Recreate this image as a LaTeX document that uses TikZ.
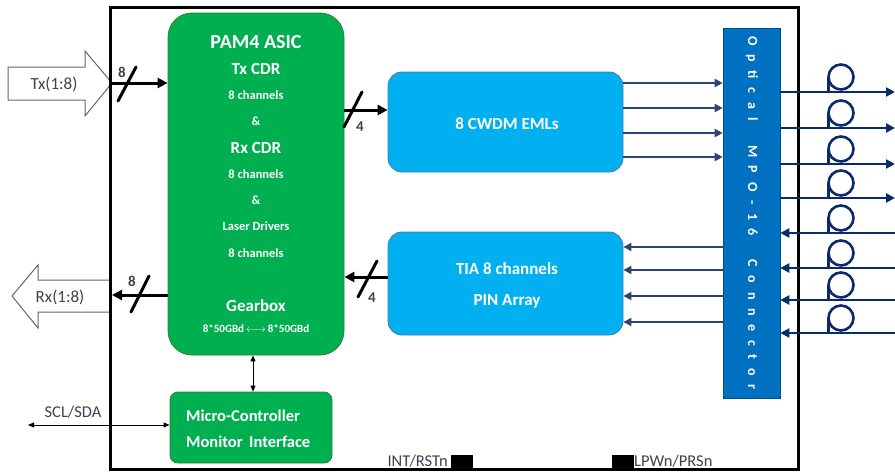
\documentclass[tikz,border=0pt]{standalone}
\usepackage{fontspec}
\setmainfont{Carlito}
\newfontfamily\spacedfont[LetterSpace=62]{Carlito}
\usetikzlibrary{arrows.meta}
\definecolor{asicgreen}{HTML}{00B050}
\definecolor{asicborder}{HTML}{2E7D32}
\definecolor{lblue}{HTML}{00B0F0}
\definecolor{lbborder}{HTML}{3D7FA8}
\definecolor{mpoblue}{HTML}{0070C0}
\definecolor{navyin}{HTML}{2B4470}
\definecolor{navyout}{HTML}{0A2A6B}
\definecolor{lbl}{HTML}{3F4150}
\tikzset{
  greenbox/.style={draw=asicborder,fill=asicgreen,line width=0.8pt,inner sep=0pt},
  bluebox/.style={draw=lbborder,fill=lblue,line width=0.8pt,inner sep=0pt},
  wtext/.style={text=white,inner sep=0pt},
  thickarrow/.style={line width=3pt,-{Triangle[length=10pt,width=10pt]}},
  slashline/.style={line width=3pt,line cap=round},
  busarrow/.style={navyin,line width=2.6pt,-{Triangle[length=8pt,width=8pt]}},
  fiber/.style={navyout,line width=2.6pt,-{Triangle[length=9pt,width=9pt]}},
  loopring/.style={navyout,line width=2.6pt},
  thinarrow/.style={line width=0.9pt,{Triangle[length=6pt,width=5pt]}-{Triangle[length=6pt,width=5pt]}},
  blockarrow/.style={draw=gray!80!black,line width=1pt,fill=white},
  lbltext/.style={text=lbl,inner sep=0pt},
  pin/.style={fill=black,inner sep=0pt,minimum width=22pt,minimum height=15pt}
}
\newcommand{\fsz}[1]{\fontsize{#1}{#1}\selectfont}
\begin{document}
\begin{tikzpicture}[x=1pt,y=-1pt]
\useasboundingbox (0,0) rectangle (895,474);
% outer module box
\node[draw,line width=3pt,minimum width=688pt,minimum height=462pt,inner sep=0pt] (outer) at (454,238) {};

% block arrows
\draw[blockarrow] (8,67) -- (85,67) -- (85,51) -- (112,83) -- (85,116) -- (85,100) -- (8,100) -- cycle;
\node[lbltext,font=\fsz{17}] (txl) at (54,84) {Tx(1:8)};
\draw[blockarrow] (110,280) -- (38,280) -- (38,265) -- (12,296) -- (38,328) -- (38,312) -- (110,312) -- cycle;
\node[lbltext,font=\fsz{17}] (rxl) at (60,297) {Rx(1:8)};
\draw[line width=3pt] (110,7) -- (110,469);

% ASIC
\node[greenbox,rounded corners=24pt,minimum width=176pt,minimum height=342pt] (asic) at (256,184) {};
\node[wtext,font=\bfseries\fsz{20}] (t1) at (256,42) {PAM4 ASIC};
\node[wtext,font=\bfseries\fsz{17}] (t2) at (256,69) {Tx CDR};
\node[wtext,font=\bfseries\fsz{12.5}] (t3) at (256,95) {8 channels};
\node[wtext,font=\bfseries\fsz{12.5}] (t4) at (256,121) {\&};
\node[wtext,font=\bfseries\fsz{17}] (t5) at (256,148) {Rx CDR};
\node[wtext,font=\bfseries\fsz{12.5}] (t6) at (256,174) {8 channels};
\node[wtext,font=\bfseries\fsz{12.5}] (t7) at (256,200) {\&};
\node[wtext,font=\bfseries\fsz{12.5}] (t8) at (256,226) {Laser Drivers};
\node[wtext,font=\bfseries\fsz{12.5}] (t9) at (256,253) {8 channels};
\node[wtext,font=\bfseries\fsz{17}] (t10) at (256,306) {Gearbox};
\node[wtext,font=\bfseries\fsz{11}] (t11) at (256,329) {8*50GBd\,$\longleftrightarrow$\,8*50GBd};

% micro-controller
\node[greenbox,rounded corners=8pt,minimum width=162pt,minimum height=71pt] (mc) at (251,427.5) {};
\node[wtext,font=\bfseries\fsz{16.5},anchor=west] (mc1) at (186,416) {Micro-Controller};
\node[wtext,font=\bfseries\fsz{16.5},anchor=west] (mc2) at (186,442) {Monitor\, Interface};
\draw[thinarrow] (asic.south -| 253,0) -- (mc.north -| 253,0);
\coordinate (sclend) at (28,425);
\draw[thinarrow] (sclend) -- (mc.west |- 0,425);
\node[lbltext,font=\fsz{16.5}] (scl) at (73,412) {SCL/SDA};

% Tx / Rx 8-bit buses
\coordinate (txin) at (112,83);
\draw[thickarrow] (txin) -- (asic.west |- 0,83);
\draw[slashline] (118,101) -- (136,67);
\node[lbltext,font=\bfseries\fsz{15}] (n8a) at (122,72) {8};
\coordinate (rxout) at (112,295);
\draw[thickarrow] (asic.west |- 0,295) -- (rxout);
\draw[slashline] (131,312) -- (149,276);
\node[lbltext,font=\bfseries\fsz{15}] (n8b) at (132,281) {8};

% EML / TIA
\node[bluebox,rounded corners=14pt,minimum width=235pt,minimum height=100pt] (eml) at (505.5,122) {};
\node[wtext,font=\bfseries\fsz{17}] (emlt) at (507,124) {8 CWDM EMLs};
\node[bluebox,rounded corners=14pt,minimum width=235pt,minimum height=103pt] (tia) at (505.5,283.5) {};
\node[wtext,font=\bfseries\fsz{17}] (tiat1) at (507,269) {TIA 8 channels};
\node[wtext,font=\bfseries\fsz{17}] (tiat2) at (507,301) {PIN Array};

\draw[thickarrow] (asic.east |- 0,110) -- (eml.west |- 0,110);
\draw[slashline] (344,127) -- (362,92);
\node[lbltext,font=\bfseries\fsz{15}] (n4a) at (360,127) {4};
\draw[thickarrow] (tia.west |- 0,277) -- (asic.east |- 0,277);
\draw[slashline] (358,297) -- (377,261);
\node[lbltext,font=\bfseries\fsz{15}] (n4b) at (372,298) {4};

% MPO connector
\node[fill=mpoblue,draw=mpoblue!70!black,line width=0.6pt,minimum width=57pt,minimum height=370pt,inner sep=0pt] (mpo) at (751.5,213) {};
\node[rotate=-90,text=white,inner sep=0pt,font=\spacedfont\bfseries\fsz{14}] (mpot) at (752,213) {Optical\ \ MPO-16\ \ Connector};

\foreach \yy in {83,108,133,157}
  \draw[busarrow] (eml.east |- 0,\yy) -- (mpo.west |- 0,\yy);
\foreach \yy in {247,270,296,322}
  \draw[busarrow] (mpo.west |- 0,\yy) -- (tia.east |- 0,\yy);

% fibers with loops
\foreach \yy in {92,128,164,198}{
  \coordinate (fo\yy) at (895,\yy);
  \draw[fiber] (mpo.east |- 0,\yy) -- (fo\yy);
  \draw[loopring] (841,\yy-15) circle[radius=12.5] (828.5,\yy-15) -- (828.5,\yy);
}
\foreach \yy in {233,268,300,333}{
  \coordinate (fi\yy) at (895,\yy);
  \draw[fiber] (fi\yy) -- (mpo.east |- 0,\yy);
  \draw[loopring] (841,\yy-15) circle[radius=12.5] (828.5,\yy-15) -- (828.5,\yy);
}

% bottom pins
\node[pin] (intpin) at (461.5,462.5) {};
\node[lbltext,font=\fsz{16.5},anchor=east] (intl) at (448,461) {INT/RSTn};
\node[pin] (lppin) at (622.5,462.5) {};
\node[lbltext,font=\fsz{16.5},anchor=west] (lpl) at (634,461) {LPWn/PRSn};
\end{tikzpicture}
\end{document}
